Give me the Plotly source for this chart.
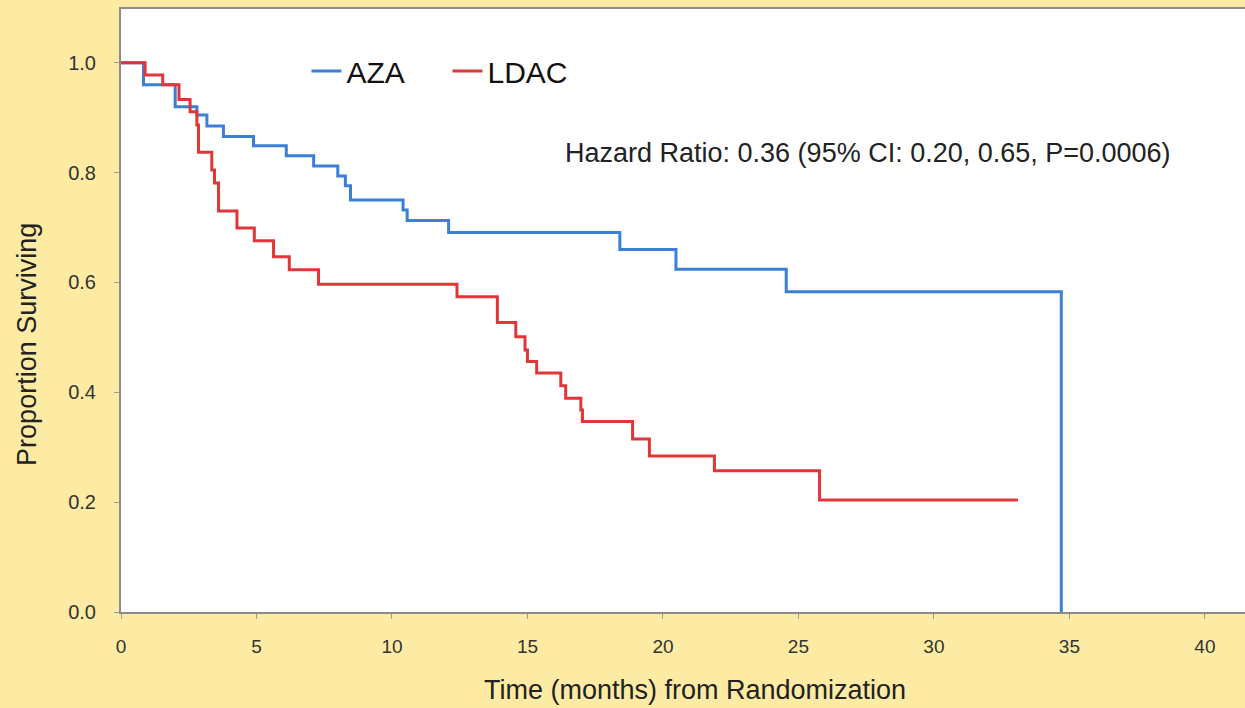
import plotly.graph_objects as go

# Kaplan-Meier step data (months, proportion surviving)
aza_t = [0, 0.83, 2.0, 2.8, 3.17, 3.78, 4.89, 6.1, 7.11, 8.0, 8.28, 8.47,
         10.41, 10.56, 12.09, 18.41, 20.48, 24.55, 34.7]
aza_s = [1.0, 0.96, 0.92, 0.905, 0.885, 0.866, 0.849, 0.831, 0.812, 0.794, 0.776, 0.75,
         0.732, 0.713, 0.691, 0.66, 0.624, 0.583, 0.0]

ldac_t = [0, 0.89, 1.54, 2.14, 2.55, 2.8, 2.86, 3.35, 3.45, 3.6, 4.28, 4.92, 5.63, 6.21,
          7.29, 12.4, 13.89, 14.57, 14.91, 15.0, 15.34, 16.23, 16.41, 16.97, 17.03,
          18.88, 19.5, 21.9, 25.78, 33.1]
ldac_s = [1.0, 0.978, 0.96, 0.933, 0.911, 0.887, 0.837, 0.805, 0.781, 0.73, 0.699, 0.676,
          0.647, 0.623, 0.597, 0.574, 0.527, 0.501, 0.477, 0.456, 0.435, 0.412, 0.389,
          0.368, 0.347, 0.315, 0.284, 0.257, 0.204, 0.204]

series_names = ["AZA", "LDAC"]
x_ticks = [0, 5, 10, 15, 20, 25, 30, 35, 40]
y_ticks = [0.0, 0.2, 0.4, 0.6, 0.8, 1.0]
hr_text = "Hazard Ratio: 0.36 (95% CI: 0.20, 0.65, P=0.0006)"
x_title = "Time (months) from Randomization"
y_title = "Proportion Surviving"

BLUE = "#3b7fd6"
RED = "#e0363a"
BG = "#fdeba3"
FONT = "Liberation Sans, Arial, sans-serif"

fig = go.Figure()
fig.add_trace(go.Scatter(x=aza_t, y=aza_s, mode="lines", name=series_names[0],
                         line=dict(color=BLUE, width=3, shape="hv")))
fig.add_trace(go.Scatter(x=ldac_t, y=ldac_s, mode="lines", name=series_names[1],
                         line=dict(color=RED, width=3, shape="hv")))

fig.add_annotation(x=27.56, y=0.836, xref="x", yref="y", text=hr_text, showarrow=False,
                   font=dict(family=FONT, size=27, color="#222222"),
                   xanchor="center", yanchor="middle")

# axis titles placed as in the reference (slightly off-centre)
fig.add_annotation(x=-0.0836, y=0.443, xref="x domain", yref="y domain",
                   text=y_title, showarrow=False, textangle=-90,
                   font=dict(family=FONT, size=27, color="#222222"),
                   xanchor="center", yanchor="middle")
fig.add_annotation(x=0.511, y=-0.129, xref="x domain", yref="y domain",
                   text=x_title, showarrow=False,
                   font=dict(family=FONT, size=27, color="#222222"),
                   xanchor="center", yanchor="middle")

fig.update_layout(
    width=1245, height=708,
    margin=dict(l=121, r=0, t=9, b=96),
    paper_bgcolor=BG, plot_bgcolor="white",
    font=dict(family=FONT, color="#222222"),
    showlegend=True,
    legend=dict(orientation="h", x=0.165, y=0.897, xanchor="left", yanchor="middle",
                bgcolor="rgba(0,0,0,0)", font=dict(family=FONT, size=30, color="#111111"),
                entrywidth=96, entrywidthmode="pixels", itemwidth=30),
    xaxis=dict(range=[0, 41.48], tickvals=x_ticks, ticktext=[str(v) for v in x_ticks],
               showgrid=False, zeroline=False, showline=True, linecolor="#8c8c8c",
               linewidth=2, mirror=True, ticks="outside", ticklen=5, tickcolor="#9a9a9a",
               ticklabelstandoff=11,
               tickfont=dict(family=FONT, size=19, color="#333333")),
    yaxis=dict(range=[0, 1.098], tickvals=y_ticks, tickformat=".1f",
               showgrid=False, zeroline=False, showline=True, linecolor="#8c8c8c",
               linewidth=2, mirror=False, ticks="outside", ticklen=5, tickcolor="#9a9a9a",
               ticklabelstandoff=14,
               tickfont=dict(family=FONT, size=20, color="#333333")),
)

fig.write_html("out.html")
